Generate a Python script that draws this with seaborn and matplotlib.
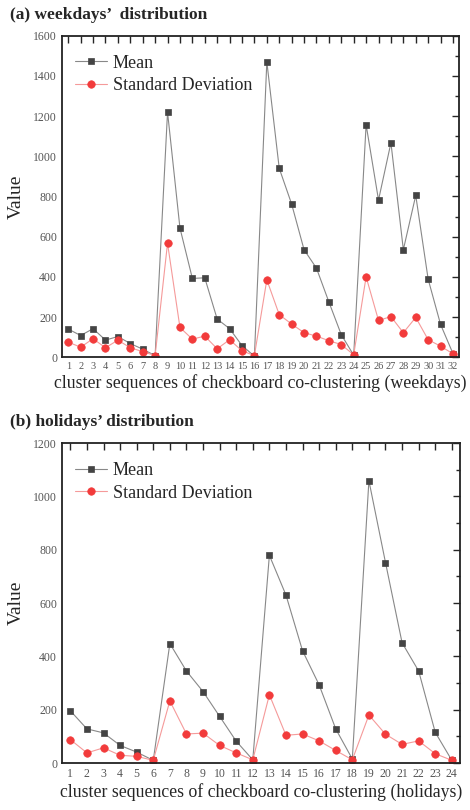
import matplotlib
matplotlib.use('Agg')
import matplotlib.pyplot as plt
import numpy as np
import pandas as pd
import seaborn as sns
from matplotlib.ticker import MultipleLocator

# weekdays (32 clusters)
wk_seq = list(range(1, 33))
wk_mean = [140, 108, 142, 85, 103, 68, 40, 8, 1220, 643, 392, 395, 190, 142, 58, 5,
           1470, 940, 762, 535, 443, 275, 112, 10, 1157, 782, 1067, 535, 805, 388, 163, 18]
wk_std = [75, 50, 92, 47, 85, 47, 28, 8, 567, 148, 90, 105, 42, 87, 32, 8,
          385, 212, 165, 122, 105, 82, 63, 12, 400, 183, 202, 122, 198, 87, 55, 17]

# holidays (24 clusters)
hd_seq = list(range(1, 25))
hd_mean = [196, 128, 113, 66, 41, 10, 448, 345, 268, 175, 82, 12,
           779, 630, 421, 293, 128, 15, 1059, 752, 451, 345, 115, 10]
hd_std = [88, 38, 57, 29, 25, 10, 233, 109, 112, 66, 38, 12,
          256, 104, 109, 83, 47, 12, 180, 108, 70, 83, 35, 10]

MEAN_C = '#444444'
STD_C = '#f23b3b'


def panel(ax, seq, mean, std, ymax, xlabel, title):
    df = pd.DataFrame({'seq': seq, 'Mean': mean, 'Standard Deviation': std})
    sns.lineplot(data=df, x='seq', y='Mean', ax=ax, color='#888888', lw=0.8,
                 marker='s', markersize=4.8, markerfacecolor=MEAN_C,
                 markeredgecolor=MEAN_C, markeredgewidth=0.5, label='Mean')
    sns.lineplot(data=df, x='seq', y='Standard Deviation', ax=ax, color='#f59a9a',
                 lw=0.8, marker='o', markersize=5.4, markerfacecolor=STD_C,
                 markeredgecolor=STD_C, markeredgewidth=0.5,
                 label='Standard Deviation')
    ax.set_xlim(0.5, len(seq) + 0.5)
    ax.set_ylim(0, ymax)
    ax.set_xticks(seq)
    ax.yaxis.set_major_locator(MultipleLocator(200))
    ax.yaxis.set_minor_locator(MultipleLocator(100))
    ax.tick_params(direction='in', top=True, right=True, which='both',
                   labelcolor='#555555', width=1.0)
    ax.tick_params(axis='y', labelsize=8.5)
    ax.tick_params(axis='x', labelsize=8.5 if len(seq) < 30 else 7.5)
    ax.tick_params(which='major', length=5)
    ax.tick_params(which='minor', length=3)
    ax.set_xlabel(xlabel, fontsize=12.8, labelpad=2)
    ax.set_ylabel('Value', fontsize=14, labelpad=6)
    for s in ax.spines.values():
        s.set_linewidth(1.3)
        s.set_color('#222222')
    ax.legend(loc='upper left', frameon=False, fontsize=13, handlelength=1.8,
              handletextpad=0.3, borderaxespad=0.3, labelspacing=0.3,
              bbox_to_anchor=(0.0, 0.98))
    ax.text(-0.13, 1.065, title, transform=ax.transAxes, fontsize=12.5,
            fontweight='bold', ha='left', va='center')


sns.set_style('white')
plt.rcParams['font.family'] = ['Liberation Serif', 'DejaVu Serif']

fig = plt.figure(figsize=(4.7, 8.1), dpi=100)
ax1 = fig.add_axes([0.132, 0.559, 0.845, 0.397])
ax2 = fig.add_axes([0.132, 0.058, 0.847, 0.395])

panel(ax1, wk_seq, wk_mean, wk_std, 1600,
      'cluster sequences of checkboard co-clustering (weekdays)',
      "(a) weekdays\u2019  distribution")
panel(ax2, hd_seq, hd_mean, hd_std, 1200,
      'cluster sequences of checkboard co-clustering (holidays)',
      "(b) holidays\u2019 distribution")

fig.savefig('out.png', dpi=100)
